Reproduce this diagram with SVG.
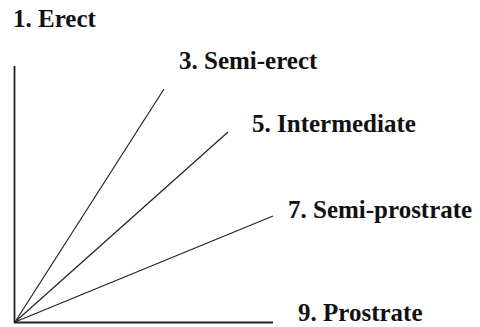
<svg xmlns="http://www.w3.org/2000/svg" width="480" height="327" viewBox="0 0 480 327">
<style>
.lbl{font-family:"Liberation Serif","Times New Roman",serif;font-weight:bold;font-size:25px;fill:#111}
.ax{stroke:#222;stroke-width:1.8;fill:none}
.ln{stroke:#222;stroke-width:1.2;fill:none}
</style>
<rect width="480" height="327" fill="#fff"/>
<g id="connectors">
<line class="ax" x1="14.5" y1="66" x2="14.5" y2="323"/>
<line class="ax" x1="14" y1="322.5" x2="273" y2="322.5"/>
<line class="ln" x1="15" y1="322" x2="164" y2="89"/>
<line class="ln" x1="15" y1="322" x2="228" y2="132"/>
<line class="ln" x1="15" y1="322" x2="273" y2="216"/>
</g>
<g id="erect"><text class="lbl" x="13" y="27">1. Erect</text></g>
<g id="semi-erect"><text class="lbl" x="179" y="69">3. Semi-erect</text></g>
<g id="intermediate"><text class="lbl" x="252" y="132">5. Intermediate</text></g>
<g id="semi-prostrate"><text class="lbl" x="288" y="218">7. Semi-prostrate</text></g>
<g id="prostrate"><text class="lbl" x="298" y="321">9. Prostrate</text></g>
</svg>
